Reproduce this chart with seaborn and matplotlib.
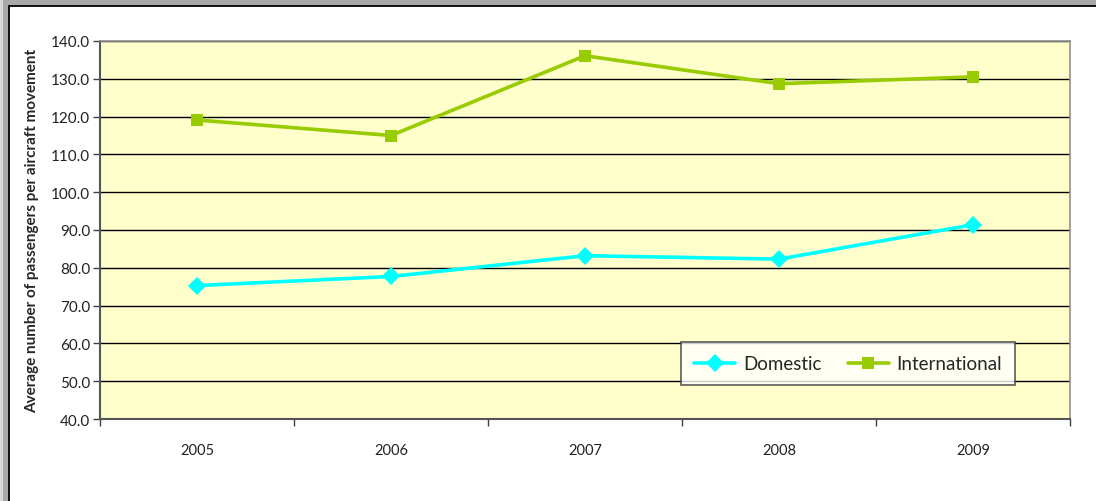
import pandas as pd
import numpy as np
import seaborn as sns
import matplotlib.pyplot as plt
from matplotlib.patches import Rectangle
from matplotlib.ticker import FixedLocator, FormatStrFormatter

sns.set_style("white")
plt.rcParams['font.family'] = ['Lato', 'DejaVu Sans']

# values
years = ["2005", "2006", "2007", "2008", "2009"]
domestic = [75.3, 77.7, 83.2, 82.3, 91.4]
international = [119.1, 115.0, 136.1, 128.7, 130.5]

df = pd.DataFrame({
    "year": years * 2,
    "value": domestic + international,
    "series": ["Domestic"] * len(years) + ["International"] * len(years),
})

W, H = 1096, 502
fig = plt.figure(figsize=[W / 100, H / 100], dpi=100, facecolor='#d9d9d9')

# shadow + chart frame (drawn behind the axes)
for i, c in enumerate(['#e6e6e6', '#d0d0d0', '#bdbdbd', '#a8a8a8']):
    fig.patches.append(Rectangle(((6 - i * 1.5 + 1) / W, 0), 1, (H - 4 + i * 1.5) / H,
                                 transform=fig.transFigure, facecolor=c, edgecolor='none', zorder=-5 + i))
fig.patches.append(Rectangle((9 / W, -0.1), 1, (H - 7) / H + 0.1, transform=fig.transFigure,
                             facecolor='white', edgecolor='black', linewidth=1.3, zorder=-0.5))

ax = fig.add_axes([100 / W, 1 - 420 / H, (1070 - 100) / W, (420 - 42) / H])
ax.set_zorder(2)
ax.set_facecolor('#FFFFCC')

sns.lineplot(data=df, x="year", y="value", hue="series", style="series",
             palette={"Domestic": "#00FFFF", "International": "#99CC00"},
             markers={"Domestic": "D", "International": "s"}, dashes=False,
             markersize=9, linewidth=2.6, markeredgewidth=0, ax=ax)

ax.set_ylim(40, 140)
ax.set_xlim(-0.5, 4.5)
ax.set_yticks(np.arange(40, 141, 10))
ax.yaxis.set_major_formatter(FormatStrFormatter('%.1f'))
ax.yaxis.grid(True, color='black', linewidth=1)
ax.set_axisbelow(True)
ax.tick_params(axis='y', which='major', direction='out', length=5, width=1, color='#404040',
               labelsize=11, pad=2, left=True)
ax.tick_params(axis='x', which='major', length=0, labelsize=10.5, pad=17)
ax.xaxis.set_minor_locator(FixedLocator(np.arange(-0.5, 4.6, 1)))
ax.tick_params(axis='x', which='minor', direction='out', length=5, width=1, color='#404040', bottom=True)
for lab in ax.get_xticklabels() + ax.get_yticklabels():
    lab.set_color('#222222')

for s in ['left', 'bottom']:
    ax.spines[s].set_color('#555555')
    ax.spines[s].set_linewidth(1.5)
for s in ['top', 'right']:
    ax.spines[s].set_color('#909090')
    ax.spines[s].set_linewidth(1.2)

ax.set_xlabel("")
ax.set_ylabel("Average number of passengers per aircraft movement", fontsize=11,
              fontweight='bold', labelpad=9)

handles, labels = ax.get_legend_handles_labels()
leg = ax.legend(handles, labels, ncol=2, loc='lower right', bbox_to_anchor=(0.953, 0.064),
                fontsize=13.5, frameon=True, fancybox=False, handlelength=2.2,
                columnspacing=1.4, borderpad=0.7, handletextpad=0.4)
leg.get_frame().set_edgecolor('#333333')
leg.get_frame().set_linewidth(1.2)
leg.get_frame().set_facecolor('white')

plt.savefig("out.png", dpi=100, facecolor=fig.get_facecolor())
